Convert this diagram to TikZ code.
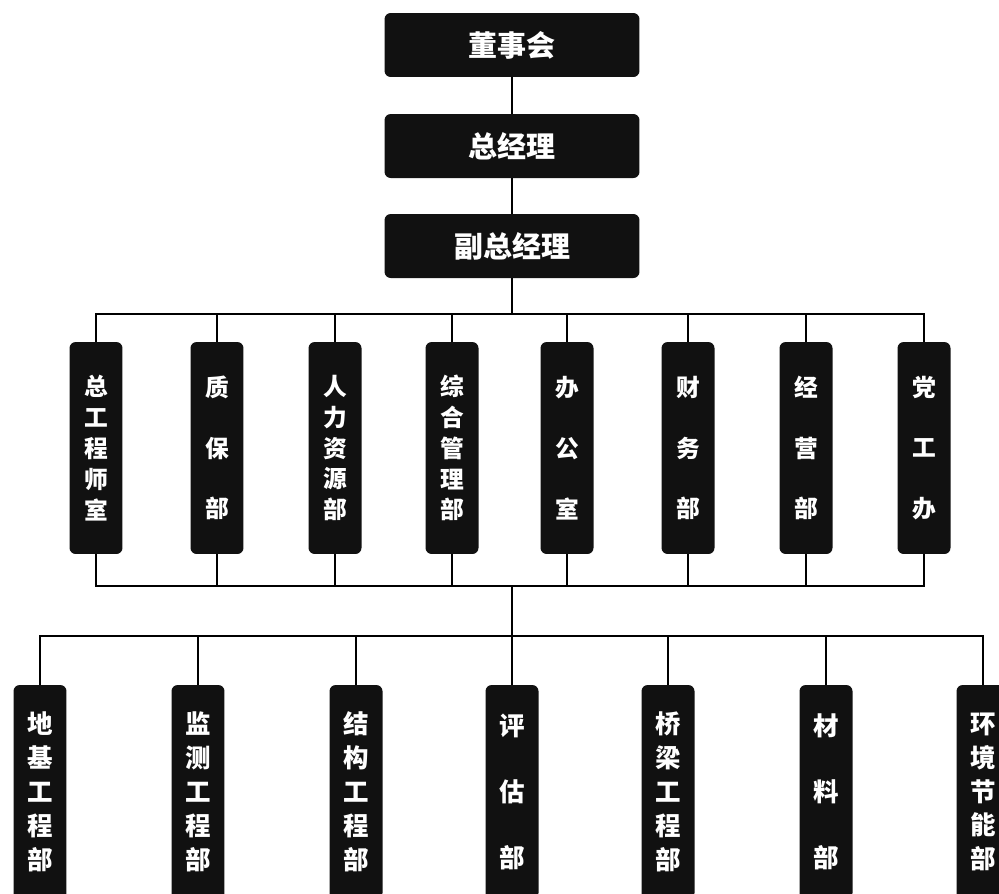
\documentclass[tikz,border=0pt]{standalone}
\usepackage{fontspec}
\newfontfamily\cjk{Noto Sans CJK SC}
\definecolor{boxblack}{HTML}{111111}

\begin{document}
\begin{tikzpicture}[x=0.02cm,y=-0.02cm,
    org/.style={fill=boxblack, rounded corners=3.5pt, text=white, inner sep=0pt, align=center},
    head/.style={org, minimum width=5.1cm, minimum height=1.28cm, font=\cjk\bfseries\fontsize{16.5}{20}\selectfont},
    deptfive/.style={org, minimum width=1.06cm, minimum height=4.24cm, font=\cjk\bfseries\fontsize{13.5}{17.6}\selectfont},
    deptthree/.style={deptfive, font=\cjk\bfseries\fontsize{13.5}{34.6}\selectfont},
    unitfive/.style={org, minimum width=1.06cm, minimum height=4.28cm, font=\cjk\bfseries\fontsize{14.5}{19.3}\selectfont},
    unitthree/.style={unitfive, font=\cjk\bfseries\fontsize{14.5}{37.4}\selectfont},
    wire/.style={line width=0.8pt}]
      \useasboundingbox (0,0) rectangle (999,893);
      \clip (0,0) rectangle (999,893);
      \def\ymid{448}
      \def\ylow{792}
      \coordinate (topbus) at (512,314);
      \coordinate (midbus) at (512,586);
      \coordinate (lowbus) at (512,636);

      % MANAGEMENT
      \node[head] (board) at (512,45) {董事会};
      \node[head] (gm) at (512,146) {总经理};
      \node[head] (vgm) at (512,246) {副总经理};

      % DEPARTMENTS
      \node[deptfive] (d1) at (96,\ymid) {总\\工\\程\\师\\室};
      \node[deptthree] (d2) at (217,\ymid) {质\\保\\部};
      \node[deptfive] (d3) at (335,\ymid) {人\\力\\资\\源\\部};
      \node[deptfive] (d4) at (452,\ymid) {综\\合\\管\\理\\部};
      \node[deptthree] (d5) at (567,\ymid) {办\\公\\室};
      \node[deptthree] (d6) at (688,\ymid) {财\\务\\部};
      \node[deptthree] (d7) at (806,\ymid) {经\\营\\部};
      \node[deptthree] (d8) at (924,\ymid) {党\\工\\办};

      % UNITS
      \node[unitfive] (u1) at (40,\ylow) {地\\基\\工\\程\\部};
      \node[unitfive] (u2) at (198,\ylow) {监\\测\\工\\程\\部};
      \node[unitfive] (u3) at (356,\ylow) {结\\构\\工\\程\\部};
      \node[unitthree] (u4) at (512,\ylow) {评\\估\\部};
      \node[unitfive] (u5) at (668,\ylow) {桥\\梁\\工\\程\\部};
      \node[unitthree] (u6) at (826,\ylow) {材\\料\\部};
      \node[unitfive] (u7) at (983,\ylow) {环\\境\\节\\能\\部};

      % CHAIN
      \draw[wire] (board) -- (gm);
      \draw[wire] (gm) -- (vgm);
      \draw[wire] (vgm) -- (topbus);

      % UPPER BUS
      \draw[wire] (d1.north) |- (topbus) -| (d8.north);
      \draw[wire] (d2) -- (d2 |- topbus);
      \draw[wire] (d3) -- (d3 |- topbus);
      \draw[wire] (d4) -- (d4 |- topbus);
      \draw[wire] (d5) -- (d5 |- topbus);
      \draw[wire] (d6) -- (d6 |- topbus);
      \draw[wire] (d7) -- (d7 |- topbus);

      % MIDDLE BUS
      \draw[wire] (d1.south) |- (midbus) -| (d8.south);
      \draw[wire] (d2) -- (d2 |- midbus);
      \draw[wire] (d3) -- (d3 |- midbus);
      \draw[wire] (d4) -- (d4 |- midbus);
      \draw[wire] (d5) -- (d5 |- midbus);
      \draw[wire] (d6) -- (d6 |- midbus);
      \draw[wire] (d7) -- (d7 |- midbus);
      \draw[wire] (midbus) -- (lowbus);

      % LOWER BUS
      \draw[wire] (u1.north) |- (lowbus) -| (u7.north);
      \draw[wire] (u2) -- (u2 |- lowbus);
      \draw[wire] (u3) -- (u3 |- lowbus);
      \draw[wire] (u4) -- (lowbus);
      \draw[wire] (u5) -- (u5 |- lowbus);
      \draw[wire] (u6) -- (u6 |- lowbus);
    \end{tikzpicture}
\end{document}
